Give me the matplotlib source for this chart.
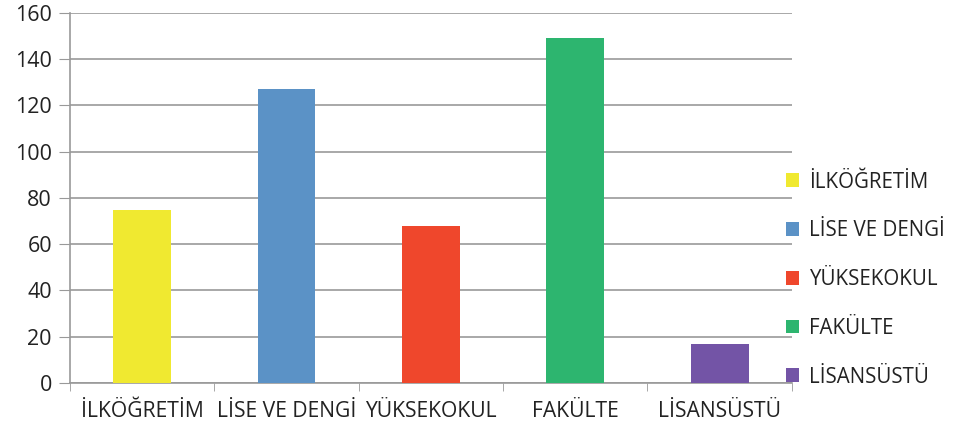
import matplotlib.pyplot as plt
import numpy as np
from matplotlib.patches import Patch

categories = ["İLKÖĞRETİM", "LİSE VE DENGİ", "YÜKSEKOKUL", "FAKÜLTE", "LİSANSÜSTÜ"]
values = [75, 127, 68, 149, 17]
colors = ["#F0E930", "#5B92C6", "#EF472C", "#2DB56F", "#7354A6"]

plt.rcParams["font.family"] = ["Open Sans", "DejaVu Sans"]

fig = plt.figure(figsize=(9.54, 4.32), dpi=100)
ax = fig.add_axes([0.0734, 0.1134, 0.7566, 0.8566])

x = np.arange(len(categories))
ax.bar(x, values, width=0.4, color=colors, zorder=3)

ax.set_xlim(-0.5, len(categories) - 0.5)
ax.set_ylim(0, 160)
ax.set_yticks(range(0, 161, 20))
ax.set_xticks(x)
ax.set_xticklabels(categories)
ax.set_xticks(np.arange(-0.5, len(categories), 1), minor=True)
ax.tick_params(axis="x", which="major", length=0, pad=13, labelsize=15.2, labelcolor="#222222")
ax.tick_params(axis="x", which="minor", length=6, color="#999999")
ax.tick_params(axis="y", length=8, color="#999999", labelsize=15.5, labelcolor="#222222", pad=5)

ax.grid(axis="y", color="#999999", linewidth=1.2, zorder=0)
for s in ["top", "right"]:
    ax.spines[s].set_visible(False)
for s in ["left", "bottom"]:
    ax.spines[s].set_color("#999999")
    ax.spines[s].set_linewidth(1.2)

handles = [Patch(facecolor=c) for c in colors]
fig.legend(handles, categories, loc="center left", bbox_to_anchor=(0.824, 0.353),
           frameon=False, fontsize=14.8, handlelength=0.65, handleheight=0.65,
           handletextpad=0.45, labelspacing=1.35, borderpad=0, borderaxespad=0,
           labelcolor="#222222")

fig.savefig("out.png", dpi=100)
